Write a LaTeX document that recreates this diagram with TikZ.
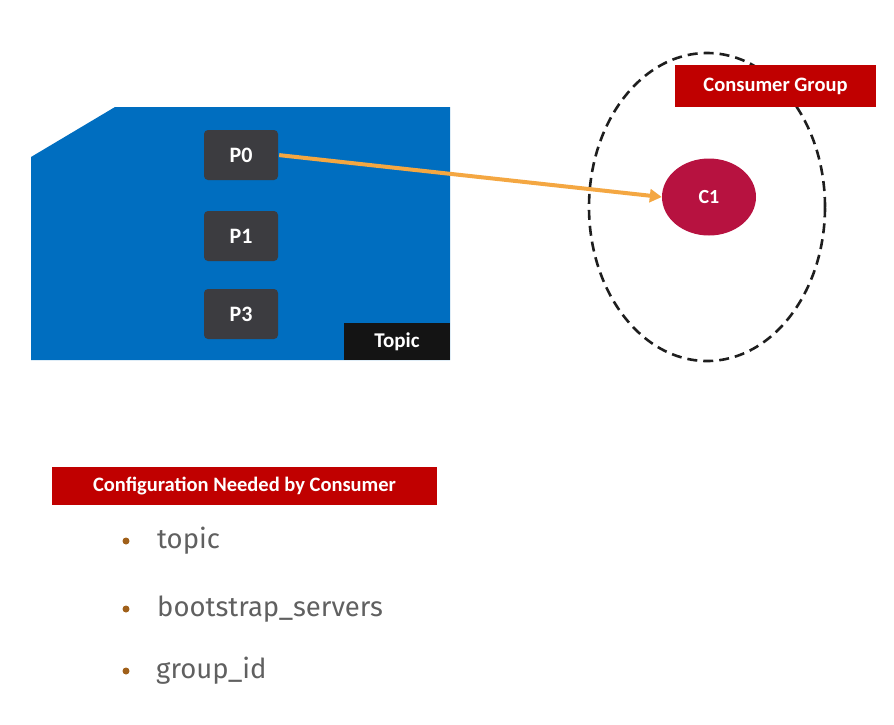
\documentclass[tikz,border=0pt]{standalone}
\usepackage{fontspec}
\setmainfont{Carlito}
\newfontfamily\bodyfont{Fira Sans}
\usetikzlibrary{shapes.geometric,arrows.meta}
\definecolor{topicblue}{RGB}{0,110,192}
\definecolor{partgray}{RGB}{60,60,64}
\definecolor{bannerred}{RGB}{192,0,0}
\definecolor{consred}{RGB}{183,18,64}
\definecolor{arroworange}{RGB}{244,167,66}
\definecolor{bulletbrown}{RGB}{160,96,26}
\definecolor{itemgray}{RGB}{96,96,96}
\definecolor{dashdark}{RGB}{30,30,30}
\tikzset{
  partbox/.style={fill=partgray, rounded corners=4pt, minimum width=74pt, minimum height=50pt, inner sep=0pt, text=white, font=\bfseries\fontsize{22}{26}\selectfont},
  banner/.style={fill=bannerred, inner sep=0pt, text=white, font=\bfseries\fontsize{20.5}{24}\selectfont},
  itemtext/.style={anchor=west, inner sep=0pt, text=itemgray, font=\bodyfont\fontsize{27.5}{32}\selectfont},
  bulletdot/.style={circle, fill=bulletbrown, minimum size=7pt, inner sep=0pt}
}
\begin{document}
\begin{tikzpicture}[x=1pt,y=-1pt]
\useasboundingbox (0,0) rectangle (894,724);
% topic area
\fill[topicblue] (31,157) -- (115,107) -- (450,107) -- (450,360) -- (31,360) -- cycle;
\node[fill=black!92, minimum width=106pt, minimum height=37pt, inner sep=0pt, text=white, font=\bfseries\fontsize{21}{24}\selectfont] (topic) at (397,341.5) {Topic};
\node[partbox] (p0) at (241,155) {P0};
\node[partbox] (p1) at (241,236) {P1};
\node[partbox] (p3) at (241,314) {P3};
% consumer group
\node[ellipse, draw=dashdark, dash pattern=on 10pt off 6pt, line width=2.6pt, minimum width=236pt, minimum height=308pt] (grp) at (707,207) {};
\node[banner, minimum width=201pt, minimum height=42pt] (cg) at (775.5,86) {Consumer Group};
\node[ellipse, fill=consred, minimum width=94pt, minimum height=77pt, inner sep=0pt, text=white, font=\bfseries\fontsize{20}{24}\selectfont] (c1) at (709,197) {C1};
\draw[arroworange, line width=4pt, -{Triangle[length=12pt,width=13pt]}, shorten <=1pt] (p0.east) -- (c1.west);
% configuration
\node[banner, minimum width=385pt, minimum height=38pt] (cfg) at (244.5,486) {Configuration Needed by Consumer};
\node[bulletdot] (b1) at (126,541) {};
\node[bulletdot] (b2) at (126,609) {};
\node[bulletdot] (b3) at (126,671) {};
\node[itemtext] (t1) at (157,541) {topic};
\node[itemtext] (t2) at (157,609) {bootstrap\_servers};
\node[itemtext] (t3) at (156,671) {group\_id};
\end{tikzpicture}
\end{document}
